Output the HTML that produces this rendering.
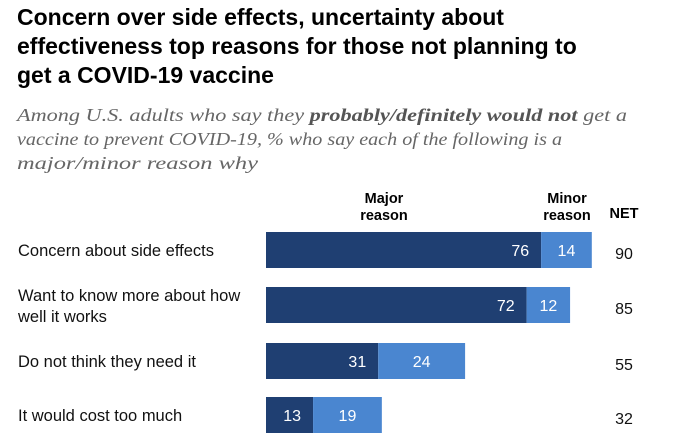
<!DOCTYPE html>
<html><head><meta charset="utf-8"><style>
body{margin:0;width:683px;height:447px;background:#fff;font-family:"Liberation Sans",sans-serif;overflow:hidden;position:relative}
.t{position:absolute;left:17px;top:3px;font-weight:bold;font-size:23px;line-height:29px;color:#000;width:585px}
svg{position:absolute;left:0;top:0}
</style></head><body>
<div class="t">Concern over side effects, uncertainty about effectiveness top reasons for those not planning to get a COVID-19 vaccine</div>
<svg id="c" width="683" height="447">
<g font-family="Liberation Serif" font-style="italic" font-size="18" fill="#666">
<text x="17" y="121" textLength="610" lengthAdjust="spacingAndGlyphs">Among U.S. adults who say they <tspan font-weight="bold" fill="#555">probably/definitely would not</tspan> get a</text>
<text x="17" y="145" textLength="545" lengthAdjust="spacingAndGlyphs">vaccine to prevent COVID-19, % who say each of the following is a</text>
<text x="17" y="169" textLength="241" lengthAdjust="spacingAndGlyphs">major/minor reason why</text>
</g>
</svg>
<script>
const categories=[["Concern about side effects"],["Want to know more about how","well it works"],["Do not think they need it"],["It would cost too much"]];
const majorValues=[76,72,31,13];
const minorValues=[14,12,24,19];
const netValues=[90,85,55,32];
const svg=document.getElementById('c');
const NS='http://www.w3.org/2000/svg';
const x0=266,scale=3.62,rowTops=[232,287,343,397],bh=36;
function X(v){return x0+v*scale;}
function el(t,a,txt){const e=document.createElementNS(NS,t);for(const k in a)e.setAttribute(k,a[k]);if(txt!==undefined)e.textContent=txt;svg.appendChild(e);return e;}
function hdr(lines,x,y,name){const t=el('text',{x:x,y:y,'text-anchor':'middle','font-weight':'bold','font-size':'14.5','font-family':'Liberation Sans'});


lines.forEach((l,i)=>{const s=document.createElementNS(NS,'tspan');s.setAttribute('x',x);s.setAttribute('dy',i?17:0);s.textContent=l;t.appendChild(s);});}
hdr(["Major","reason"],384,203,'major-reason-header');
hdr(["Minor","reason"],567,203,'minor-reason-header');
hdr(["NET"],624,218,'net-header');
categories.forEach((c,i)=>{
 const y=rowTops[i],cy=y+bh/2;
 const lab=el('text',{x:18,y:c.length>1?cy-4:cy+6,'font-size':'16.5','fill':'#111'});
 
 
 c.forEach((l,j)=>{const s=document.createElementNS(NS,'tspan');s.setAttribute('x',18);s.setAttribute('dy',j?21:0);s.textContent=l;lab.appendChild(s);});
 const a=el('rect',{x:X(0),y:y,width:X(majorValues[i])-X(0),height:bh,fill:'#1f3f72'});
 
 
 const b=el('rect',{x:X(majorValues[i]),y:y,width:X(majorValues[i]+minorValues[i])-X(majorValues[i]),height:bh,fill:'#4a86d0'});
 
 
 const t1=el('text',{x:X(majorValues[i])-12,y:cy+6,'text-anchor':'end','font-size':'16',fill:'#fff'},majorValues[i]);
 
 
 const t2=el('text',{x:X(majorValues[i]+minorValues[i]/2),y:cy+6,'text-anchor':'middle','font-size':'16',fill:'#fff'},minorValues[i]);
 
 
 const t3=el('text',{x:624,y:cy+9,'text-anchor':'middle','font-size':'16',fill:'#111'},netValues[i]);
 
 
});
</script>
</body></html>
